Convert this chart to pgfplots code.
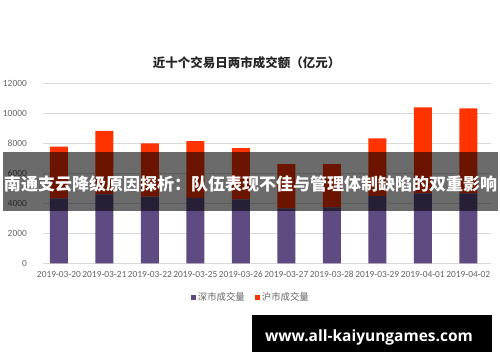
\documentclass[border=0pt]{standalone}
\usepackage{pgfplots}
\pgfplotsset{compat=1.18}
\usepackage{fontspec}
\setmainfont{Carlito}
\newfontfamily\cjk{Noto Sans CJK SC}
\newfontfamily\urlfont{Open Sans}
\definecolor{szpurple}{RGB}{94,75,130}
\definecolor{shred}{RGB}{255,51,0}
\definecolor{lbl}{RGB}{100,100,100}
\definecolor{gridc}{RGB}{217,217,217}
\begin{document}
\begin{tikzpicture}[x=1pt,y=1pt]
\useasboundingbox (0,0) rectangle (500,362);
\fill[white] (0,0) rectangle (500,362);
\node[font=\cjk\bfseries\fontsize{12.5}{14}\selectfont, text=black!85] at (246.5,299) {近十个交易日两市成交额（亿元）};
\begin{axis}[
  at={(43pt,98.7pt)}, anchor=south west,
  scale only axis, width=448pt, height=180pt,
  xmin=-0.35, xmax=9.5, ymin=0, ymax=12000,
  ybar stacked, bar width=18pt,
  axis line style={draw=none},
  major tick length=0pt,
  ymajorgrids, grid style={gridc, line width=0.8pt},
  ytick={0,2000,...,12000},
  xtick={0,...,9},
  xticklabels={2019-03-20,2019-03-21,2019-03-22,2019-03-25,2019-03-26,2019-03-27,2019-03-28,2019-03-29,2019-04-01,2019-04-02},
  scaled y ticks=false,
  /pgf/number format/.cd, 1000 sep={}, assume math mode=true,
  /pgfplots/.cd,
  tick label style={font=\fontsize{9.4}{11}\selectfont, text=lbl},
  yticklabel style={anchor=east, inner sep=0pt, xshift=-16pt},
  xticklabel style={anchor=north, inner sep=0pt, yshift=-8pt},
  legend style={at={(0.464,-0.19)}, anchor=center, draw=none, fill=none,
    legend columns=2, font=\cjk\fontsize{9.4}{11}\selectfont, text=lbl,
    /tikz/every even column/.append style={column sep=8pt}},
  legend image code/.code={\fill[#1] (0pt,-2.5pt) rectangle (5pt,2.5pt);},
]
\addplot[fill=szpurple, draw=none] coordinates {(0,4330) (1,4600) (2,4440) (3,4370) (4,4270) (5,3670) (6,3730) (7,4490) (8,4670) (9,4670)};
\addplot[fill=shred, draw=none] coordinates {(0,3440) (1,4220) (2,3560) (3,3780) (4,3400) (5,2950) (6,2890) (7,3840) (8,5730) (9,5660)};
\legend{深市成交量,沪市成交量}
\end{axis}
\fill[black, opacity=0.58] (3,151) rectangle (498,210);
\node[font=\cjk\bfseries\fontsize{17}{20}\selectfont, text=white] at (250.5,178) {南通支云降级原因探析：队伍表现不佳与管理体制缺陷的双重影响};
\fill[black] (252,10) rectangle (492,47);
\node[font=\urlfont\bfseries\fontsize{15.5}{18}\selectfont, text=white] at (369,25) {www.all-kaiyungames.com};
\end{tikzpicture}
\end{document}
